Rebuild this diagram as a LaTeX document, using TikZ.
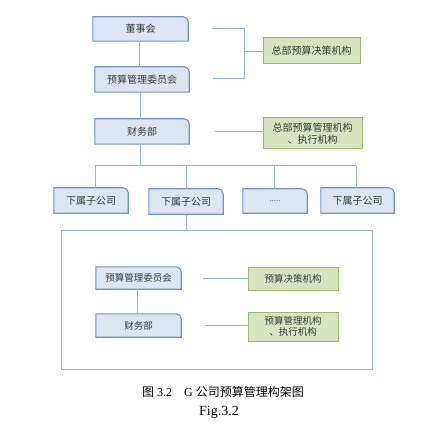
\documentclass[tikz,border=0pt]{standalone}
\usepackage{fontspec}
\setmainfont{Liberation Serif}
\newfontfamily\cjk{Noto Sans CJK SC}
\definecolor{bfill}{HTML}{DCE6F2}
\definecolor{bline}{HTML}{7193C4}
\definecolor{gfill}{HTML}{D7E4BD}
\definecolor{gline}{HTML}{9DB86E}
\definecolor{conn}{HTML}{95B3D7}
\definecolor{txt}{HTML}{3A3A3A}
\begin{document}
\begin{tikzpicture}[x=1pt,y=-1pt,
  bbox/.style={minimum width=#1, inner sep=0pt, text=txt, font=\cjk\fontsize{10}{11}\selectfont},
  gbox/.style={minimum width=#1, inner sep=0pt, fill=gfill, draw=gline, line width=1pt, text=txt, align=center, font=\cjk\fontsize{10}{12.5}\selectfont},
  conline/.style={draw=conn, line width=1pt},
  outline/.style={fill=bfill, draw=bline, line width=1.1pt}]
\useasboundingbox (0,0) rectangle (428,430);

% blue boxes (nodes), outlines drawn afterwards
\node[bbox=95, minimum height=24] (b1) at (140.5,29) {};
\node[bbox=94, minimum height=25] (b2) at (142,79.5) {};
\node[bbox=94, minimum height=25] (b3) at (142,131.5) {};
\node[bbox=74, minimum height=25] (s1) at (91,200.5) {};
\node[bbox=74, minimum height=25] (s2) at (186,201.5) {};
\node[bbox=64, minimum height=24] (s3) at (275,201) {};
\node[bbox=73, minimum height=25] (s4) at (357.5,200.5) {};
\node[bbox=85, minimum height=22] (i1) at (138.5,278) {};
\node[bbox=85, minimum height=23] (i2) at (138.5,325.5) {};

\foreach \n in {b1,b2,b3,s1,s2,s3,s4,i1,i2}{
  \path[outline] (\n.south west) -- (\n.north west) [rounded corners=5pt] -- (\n.north east) [sharp corners] -- (\n.south east) -- cycle;
}

\node[bbox=95, minimum height=24] at (b1) {董事会};
\node[bbox=94, minimum height=25] at (b2) {预算管理委员会};
\node[bbox=94, minimum height=25] at (b3) {财务部};
\node[bbox=74, minimum height=25] at (s1) {下属子公司};
\node[bbox=74, minimum height=25] at (s2) {下属子公司};
\node[bbox=64, minimum height=24, font=\fontsize{7}{8}\selectfont] at (s3) {......};
\node[bbox=73, minimum height=25] at (s4) {下属子公司};
\node[bbox=85, minimum height=22, font=\cjk\fontsize{9.5}{11}\selectfont] at (i1) {预算管理委员会};
\node[bbox=85, minimum height=23, font=\cjk\fontsize{9.5}{11}\selectfont] at (i2) {财务部};

% green boxes
\node[gbox=97, minimum height=26] (g1) at (311.5,51) {总部预算决策机构};
\node[gbox=99, minimum height=31] (g2) at (312.5,133.5) {总部预算管理机构\\、执行机构};
\node[gbox=90, minimum height=23, font=\cjk\fontsize{9.5}{11.5}\selectfont] (g3) at (293,278.5) {预算决策机构};
\node[gbox=90, minimum height=29, font=\cjk\fontsize{9.5}{11.5}\selectfont] (g4) at (293,326.5) {预算管理机构\\、执行机构};

% container
\node[draw=conn, line width=1pt, minimum width=311, minimum height=139, inner sep=0pt] (cont) at (216.5,299.5) {};

% connectors top column
\draw[conline] ([xshift=-1.5pt]b1.south) -- ([xshift=-1.5pt]b1.south |- b2.north);
\draw[conline] ([xshift=-2pt]b2.south) -- ([xshift=-2pt]b2.south |- b3.north);

% bracket
\coordinate (k1) at (212,29);
\coordinate (k2) at (213,79);
\coordinate (kv1) at (244,29);
\coordinate (kv2) at (244,79);
\coordinate (km) at (244,52);
\draw[conline] (k1) -- (kv1) -- (kv2) -- (k2);
\draw[conline] (km) -- (g1.west |- km);

\coordinate (k3) at (215,132);
\draw[conline] (k3) -- (g2.west |- k3);

% tree
\coordinate (t0) at (140,166);
\coordinate (tl) at (95,166);
\coordinate (tr) at (356,166);
\draw[conline] ([xshift=-2pt]b3.south) -- (t0);
\draw[conline] (tl) -- (tr);
\draw[conline] (tl) -- (tl |- s1.north);
\draw[conline] (s2.north |- t0) -- (s2.north);
\draw[conline] ([xshift=-1pt]s3.north |- t0) -- ([xshift=-1pt]s3.north);
\draw[conline] (tr) -- (tr |- s4.north);
\draw[conline] (s2.south) -- (s2.south |- cont.north);

% inner
\draw[conline] ([xshift=-1.5pt]i1.south) -- ([xshift=-1.5pt]i1.south |- i2.north);
\coordinate (k4) at (203,278);
\coordinate (k5) at (205,325);
\draw[conline] (k4) -- (g3.west |- k4);
\draw[conline] (k5) -- (g4.west |- k5);

% caption
\node[text=black, font=\fontsize{12}{14}\selectfont, inner sep=0pt] (cap) at (223,392) {{\cjk 图}~3.2\hspace{1em}G~{\cjk 公司预算管理构架图}};
\node[text=black, font=\fontsize{14}{16}\selectfont, inner sep=0pt] (fig) at (219,412) {Fig.3.2};
\end{tikzpicture}
\end{document}
